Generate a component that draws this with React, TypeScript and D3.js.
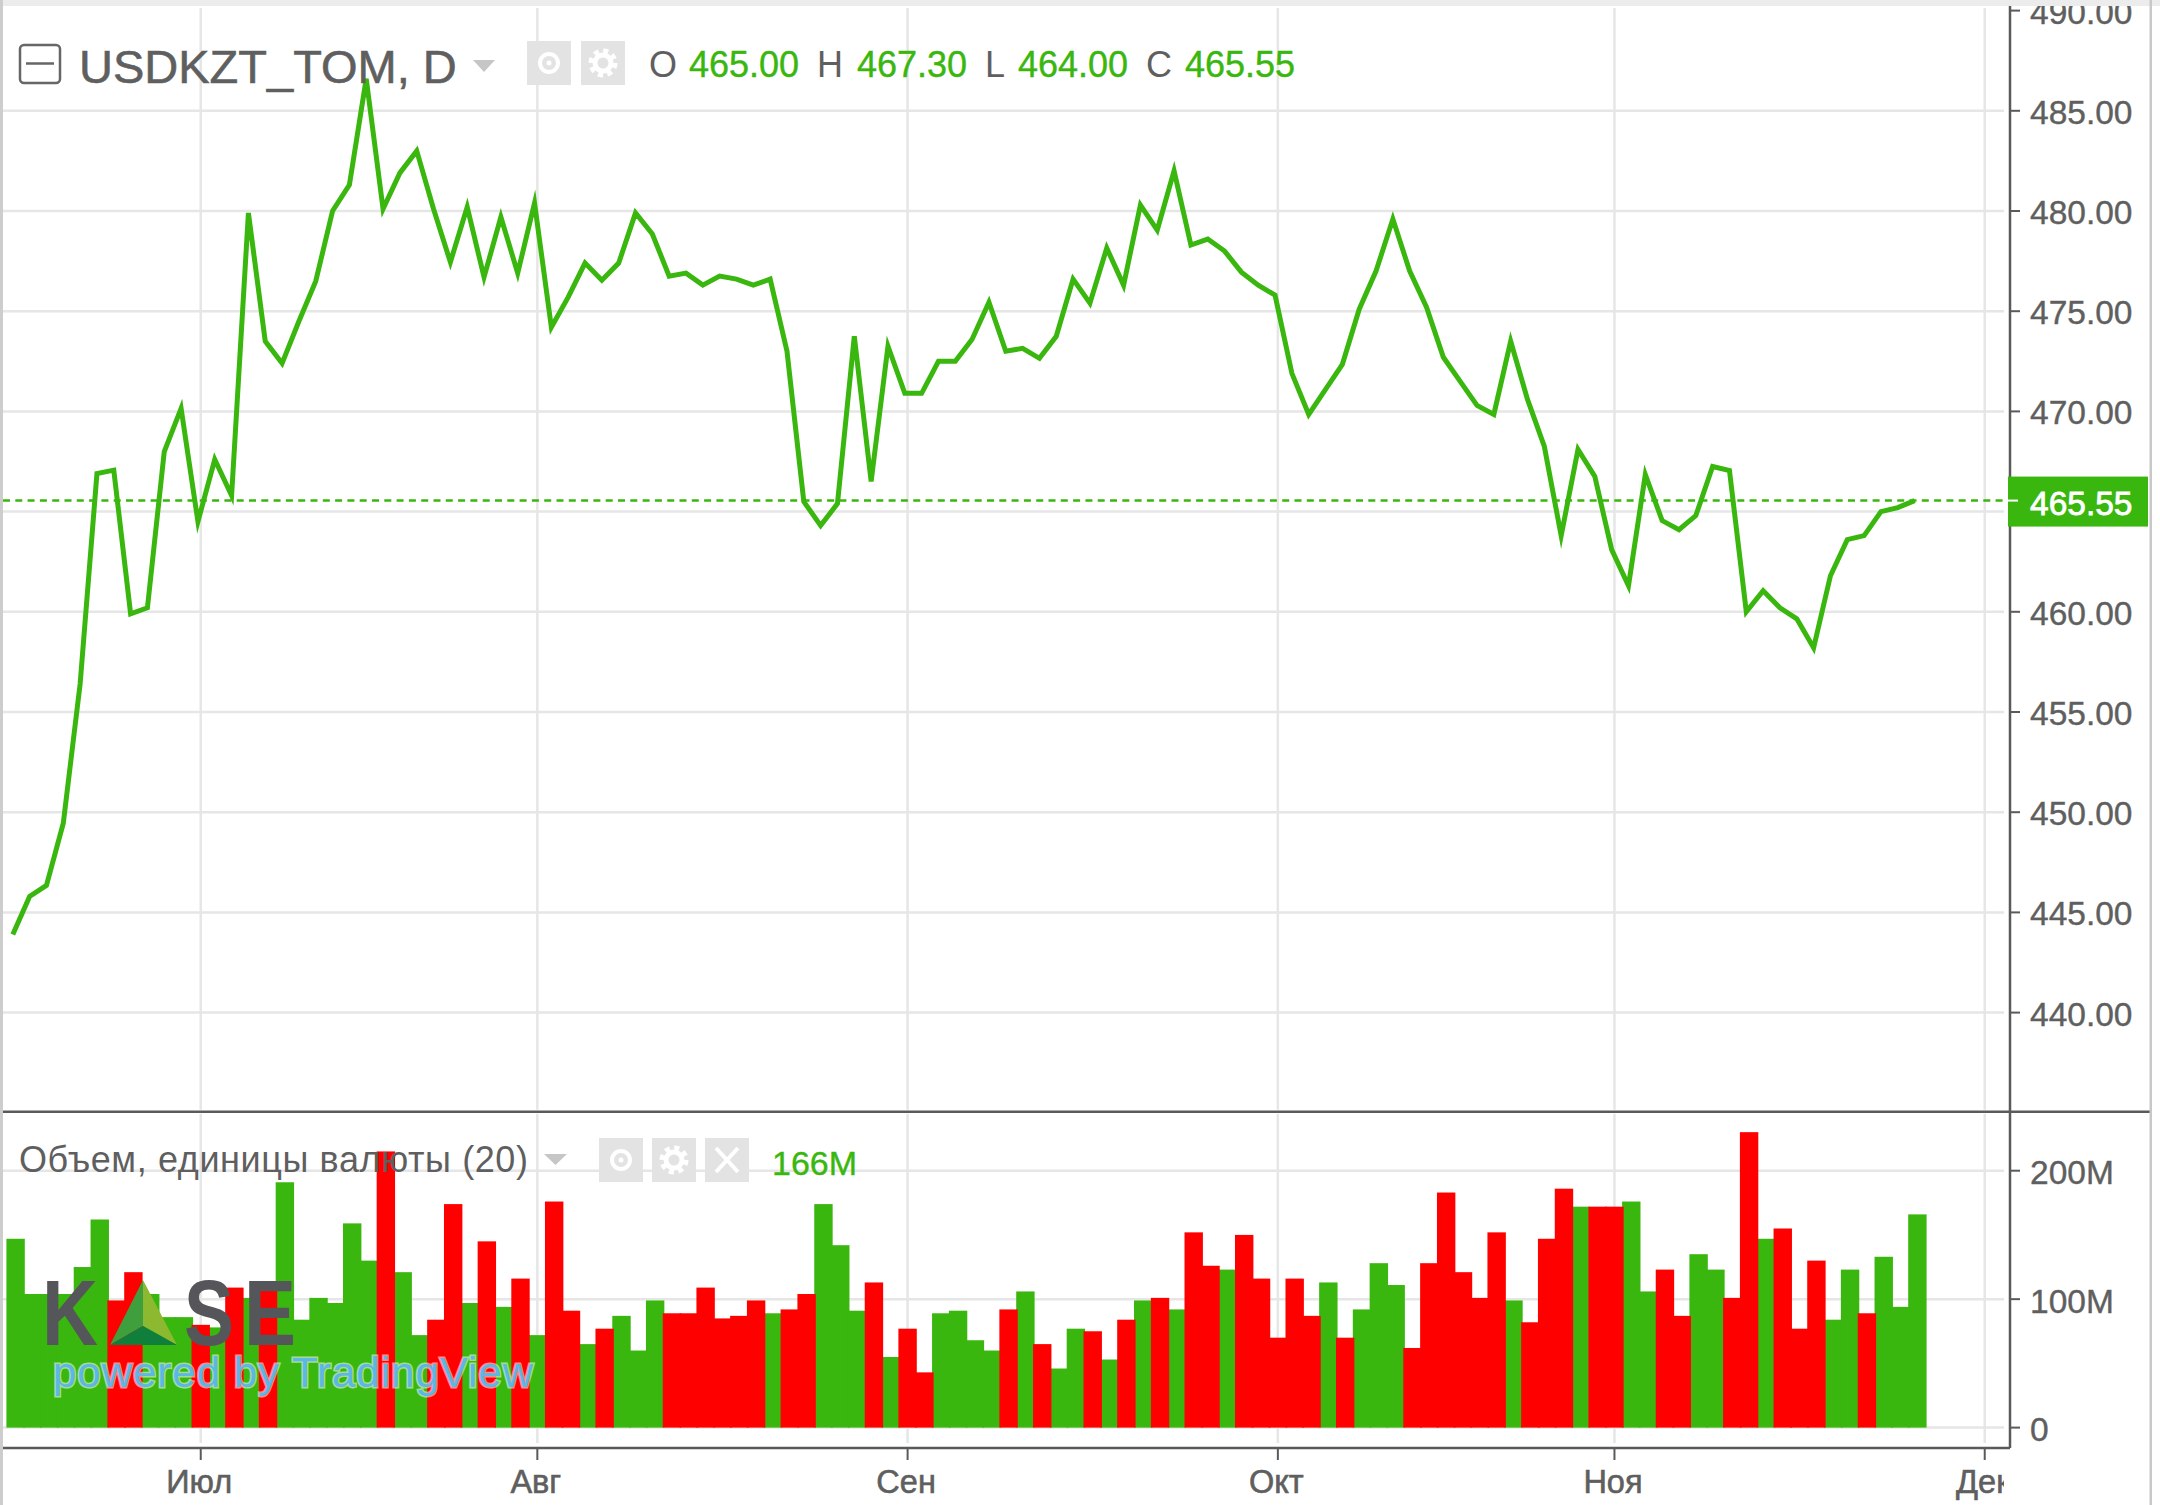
import React from 'react';
import * as d3 from 'd3';

// close prices, one per trading day
const closeValues = [
  443.9, 445.8, 446.35, 449.45, 456.4, 466.9, 467.07, 459.9, 460.2, 468.0,
  470.15, 464.5, 467.6, 465.8, 479.9, 473.5, 472.4, 474.5, 476.5, 480.0,
  481.3, 486.6, 480.1, 481.9, 483.0, 480.1, 477.45, 480.2, 476.7, 479.7,
  476.9, 480.4, 474.2, 475.7, 477.4, 476.55, 477.4, 479.9, 478.85, 476.75,
  476.9, 476.3, 476.75, 476.6, 476.3, 476.6, 473.0, 465.5, 464.3, 465.4,
  473.75, 466.5, 473.25, 470.9, 470.9, 472.5, 472.5, 473.6, 475.45, 473.0,
  473.15, 472.65, 473.75, 476.6, 475.4, 478.15, 476.3, 480.3, 479.05, 482.0,
  478.3, 478.6, 478.0, 476.95, 476.3, 475.8, 471.9, 469.85, 471.1, 472.35,
  475.1, 477.0, 479.6, 477.0, 475.2, 472.7, 471.5, 470.3, 469.85, 473.5,
  470.6, 468.25, 463.8, 468.1, 466.75, 463.1, 461.3, 466.85, 464.55, 464.1,
  464.8, 467.25, 467.05, 460.0, 461.05, 460.2, 459.65, 458.2, 461.8, 463.6,
  463.8, 465.0, 465.2, 465.55,
];

// volume in millions
const volumeValues = [
  147, 104, 104, 104, 125, 162, 99, 121, 104, 86,
  86, 80, 78, 109, 101, 109, 191, 84, 101, 97,
  159, 130, 215, 121, 72, 84, 174, 97, 145, 94,
  116, 72, 176, 91, 65, 77, 87, 60, 99, 89,
  89, 109, 85, 87, 99, 89, 92, 104, 174, 142,
  91, 113, 55, 77, 43, 89, 91, 68, 60, 92,
  106, 65, 46, 77, 75, 53, 84, 99, 101, 92,
  152, 126, 123, 150, 116, 70, 116, 87, 113, 70,
  92, 128, 111, 62, 128, 183, 121, 101, 152, 99,
  82, 147, 186, 172, 172, 172, 176, 106, 123, 87,
  135, 123, 101, 230, 147, 155, 77, 130, 84, 123,
  89, 133, 94, 166,
];

// 1 = up day, 0 = down day
const volumeUp = [
  1, 1, 1, 1, 1, 1, 0, 0, 1, 1,
  1, 0, 1, 0, 1, 0, 1, 1, 1, 1,
  1, 1, 0, 1, 1, 0, 0, 1, 0, 1,
  0, 1, 0, 0, 1, 0, 1, 1, 1, 0,
  0, 0, 0, 0, 0, 1, 0, 0, 1, 1,
  1, 0, 1, 0, 0, 1, 1, 1, 1, 0,
  1, 0, 1, 1, 0, 1, 0, 1, 0, 1,
  0, 0, 1, 0, 0, 0, 0, 0, 1, 0,
  1, 1, 1, 0, 0, 0, 0, 0, 0, 1,
  0, 0, 0, 1, 0, 0, 1, 1, 0, 0,
  1, 1, 0, 0, 1, 0, 0, 0, 1, 1,
  0, 1, 1, 1,
];

const monthLabels = ['Июл', 'Авг', 'Сен', 'Окт', 'Ноя', 'Дек'];
const monthIndex = [11, 31, 53, 75, 95, 117];
const priceTicks = [440, 445, 450, 455, 460, 465, 470, 475, 480, 485, 490];
const volumeTicks = [0, 100, 200];
const ohlcLetters = ['O', 'H', 'L', 'C'];
const ohlcValues = ['465.00', '467.30', '464.00', '465.55'];
const lastPrice = 465.55;

const W = 2160;
const H = 1505;
const plotLeft = 3;
const plotRight = 2004;
const axisX = 2010;
const sepY = 1111.7;
const bottomY = 1448;

const GREEN = '#3ab70e';
const RED = '#ff0000';
const GRID = '#e6e6e6';
const AXIS = '#5a5a5a';
const TEXT = '#5f5f5f';
const FONT = '"Liberation Sans", Arial, sans-serif';

const x = d3.scaleLinear().domain([0, 113]).range([12.8, 1914.6]);
const y = d3.scaleLinear().domain([440, 480]).range([1012.6, 211]);
const v = d3.scaleLinear().domain([0, 200]).range([1427.6, 1170.7]);
const barShift = 2.8; // bars sit a bit right of the line points
const barW = 18.4;

const priceLine = d3
  .line<number>()
  .x((_, i) => x(i))
  .y(d => y(d));

const bars = volumeValues.map((val, i) => ({ val, i, up: volumeUp[i] === 1 }));

// little gray button with a white icon
const EyeButton = ({ bx, by, w, h }: any) => (
  <g>
    <rect x={bx} y={by} width={w} height={h} fill="#e3e3e3" />
    <circle cx={bx + w / 2} cy={by + h / 2} r={9} fill="none" stroke="#fff" strokeWidth={4} />
    <circle cx={bx + w / 2} cy={by + h / 2} r={2.5} fill="#fff" />
  </g>
);

const GearButton = ({ bx, by, w, h }: any) => (
  <g>
    <rect x={bx} y={by} width={w} height={h} fill="#e3e3e3" />
    <circle
      cx={bx + w / 2}
      cy={by + h / 2}
      r={12}
      fill="none"
      stroke="#fff"
      strokeWidth={5}
      strokeDasharray="5 4.4"
    />
    <circle cx={bx + w / 2} cy={by + h / 2} r={8} fill="none" stroke="#fff" strokeWidth={5} />
  </g>
);

const CloseButton = ({ bx, by, w, h }: any) => {
  const cx = bx + w / 2;
  const cy = by + h / 2;
  return (
    <g>
      <rect x={bx} y={by} width={w} height={h} fill="#e3e3e3" />
      <path
        d={`M${cx - 11},${cy - 12}L${cx + 11},${cy + 12}M${cx + 11},${cy - 12}L${cx - 11},${cy + 12}`}
        stroke="#fff"
        strokeWidth={4}
      />
    </g>
  );
};

const App = () => {
  return (
    <svg
      width={W}
      height={H}
      style={{ position: 'absolute', left: 0, top: 0, display: 'block', background: '#fff' }}
      fontFamily={FONT}
    >
      <defs>
        <clipPath id="timeClip">
          <rect x={0} y={bottomY} width={plotRight} height={H - bottomY} />
        </clipPath>
        <clipPath id="priceClip">
          <rect x={axisX} y={6} width={W - axisX} height={H} />
        </clipPath>
      </defs>

      {/* grid */}
      {priceTicks
        .filter(t => t < 490)
        .map(t => (
          <line key={t} x1={plotLeft} x2={plotRight} y1={y(t)} y2={y(t)} stroke={GRID} strokeWidth={2.5} />
        ))}
      {volumeTicks.map(t => (
        <line key={t} x1={plotLeft} x2={plotRight} y1={v(t)} y2={v(t)} stroke={GRID} strokeWidth={2.5} />
      ))}
      {monthIndex.map(m => (
        <g key={m}>
          <line x1={x(m) + barShift} x2={x(m) + barShift} y1={8} y2={sepY - 2} stroke={GRID} strokeWidth={2.5} />
          <line x1={x(m) + barShift} x2={x(m) + barShift} y1={sepY + 2} y2={1443} stroke={GRID} strokeWidth={2.5} />
        </g>
      ))}

      {/* volume: red bars are painted over the green ones */}
      {bars
        .filter(b => b.up)
        .map(b => (
          <rect key={b.i} x={x(b.i) - 6.4} y={v(b.val)} width={barW} height={v(0) - v(b.val)} fill={GREEN} />
        ))}
      {bars
        .filter(b => !b.up)
        .map(b => (
          <rect key={b.i} x={x(b.i) - 6.4} y={v(b.val)} width={barW} height={v(0) - v(b.val)} fill={RED} />
        ))}

      {/* watermark */}
      <g fill="#55565a" fontWeight={700}>
        <text x={42} y={1345} fontSize={93} textLength={56} lengthAdjust="spacingAndGlyphs">K</text>
        <text x={184} y={1345} fontSize={93} textLength={50} lengthAdjust="spacingAndGlyphs">S</text>
        <text x={244} y={1345} fontSize={93} textLength={52} lengthAdjust="spacingAndGlyphs">E</text>
      </g>
      <path d="M143,1280L110,1345L143,1326Z" fill="#3f9f3c" />
      <path d="M143,1280L177,1345L143,1326Z" fill="#8cb92f" />
      <path d="M143,1326L110,1345L177,1345Z" fill="#0f7f3b" />
      <text
        x={53}
        y={1387}
        fontSize={42}
        fill="#5cb6e6"
        stroke="#fff"
        strokeWidth={3}
        strokeOpacity={0.55}
        paintOrder="stroke"
        textLength={480}
      >
        powered by TradingView
      </text>

      {/* last price */}
      <line
        x1={plotLeft}
        x2={plotRight}
        y1={y(lastPrice)}
        y2={y(lastPrice)}
        stroke={GREEN}
        strokeWidth={2.5}
        strokeDasharray="7 5.3"
      />

      <path
        d={priceLine(closeValues) as string}
        fill="none"
        stroke={GREEN}
        strokeWidth={5}
        strokeLinejoin="miter"
        strokeMiterlimit={6}
      />

      {/* header legend */}
      <rect x={20} y={45} width={40} height={38} rx={4} fill="none" stroke="#666" strokeWidth={2.5} />
      <line x1={26} x2={54} y1={63.5} y2={63.5} stroke="#666" strokeWidth={2.5} />
      <text x={79} y={83} fontSize={47} fill={TEXT} stroke={TEXT} strokeWidth={0.6}>USDKZT_TOM, D</text>
      <path d="M473,60L495,60L484,72Z" fill="#c6c6c6" />
      <EyeButton bx={527} by={41} w={44} h={44} />
      <GearButton bx={581} by={41} w={44} h={44} />
      {ohlcLetters.map((l, i) => (
        <g key={l}>
          <text x={[649, 817, 985, 1146][i]} y={77} fontSize={36} fill={TEXT}>{l}</text>
          <text x={[689, 857, 1018, 1185][i]} y={77} fontSize={36} fill={GREEN} stroke={GREEN} strokeWidth={0.4}>
            {ohlcValues[i]}
          </text>
        </g>
      ))}

      {/* volume legend */}
      <text x={19} y={1172} fontSize={36} fill={TEXT} textLength={509}>Объем, единицы валюты (20)</text>
      <path d="M544,1154L567,1154L555.5,1165Z" fill="#c6c6c6" />
      <EyeButton bx={599} by={1138} w={44} h={44} />
      <GearButton bx={652} by={1138} w={44} h={44} />
      <CloseButton bx={705} by={1138} w={44} h={44} />
      <text x={772} y={1175} fontSize={34} fill={GREEN} stroke={GREEN} strokeWidth={0.4}>166M</text>

      {/* separators and axes */}
      <line x1={plotLeft} x2={2150} y1={sepY} y2={sepY} stroke={AXIS} strokeWidth={2.5} />
      <line x1={plotLeft} x2={axisX} y1={bottomY} y2={bottomY} stroke={AXIS} strokeWidth={2.5} />
      <line x1={axisX} x2={axisX} y1={6} y2={bottomY} stroke={AXIS} strokeWidth={2.5} />

      <g clipPath="url(#priceClip)">
        {priceTicks.map(t => (
          <g key={t}>
            <line x1={axisX} x2={2020} y1={y(t)} y2={y(t)} stroke={AXIS} strokeWidth={2} />
            {/* 465 sits under the last price badge */}
            {t !== 465 && (
              <text x={2030} y={y(t) + 13} fontSize={33.5} fill={TEXT} stroke={TEXT} strokeWidth={0.4}>
                {t.toFixed(2)}
              </text>
            )}
          </g>
        ))}
      </g>
      {volumeTicks.map(t => (
        <g key={t}>
          <line x1={axisX} x2={2020} y1={v(t)} y2={v(t)} stroke={AXIS} strokeWidth={2} />
          <text x={2030} y={v(t) + 13.5} fontSize={33.5} fill={TEXT} stroke={TEXT} strokeWidth={0.4}>
            {t === 0 ? '0' : `${t}M`}
          </text>
        </g>
      ))}

      {/* last price badge */}
      <rect x={2008} y={y(lastPrice) - 24} width={140} height={50} fill={GREEN} />
      <line x1={2008} x2={2018} y1={y(lastPrice)} y2={y(lastPrice)} stroke="#fff" strokeWidth={2} />
      <text x={2030} y={y(lastPrice) + 14} fontSize={33.5} fill="#fff" stroke="#fff" strokeWidth={0.8}>
        {lastPrice.toFixed(2)}
      </text>

      {/* time axis */}
      {monthIndex.map(m => (
        <line key={m} x1={x(m) + barShift} x2={x(m) + barShift} y1={bottomY} y2={1460} stroke={AXIS} strokeWidth={2} />
      ))}
      <g clipPath="url(#timeClip)">
        {monthLabels.map((label, i) => (
          <text
            key={label}
            x={x(monthIndex[i]) + barShift - 1.5}
            y={1493}
            fontSize={32.5}
            fill={TEXT}
            stroke={TEXT}
            strokeWidth={0.6}
            textAnchor="middle"
          >
            {label}
          </text>
        ))}
      </g>

      {/* window frame */}
      <rect x={0} y={0} width={W} height={6} fill="#ececec" />
      <rect x={0} y={0} width={3} height={H} fill="#cdcdcd" />
      <rect x={2149.5} y={0} width={2.5} height={H} fill="#c8c8c8" />
    </svg>
  );
};

export default App;
